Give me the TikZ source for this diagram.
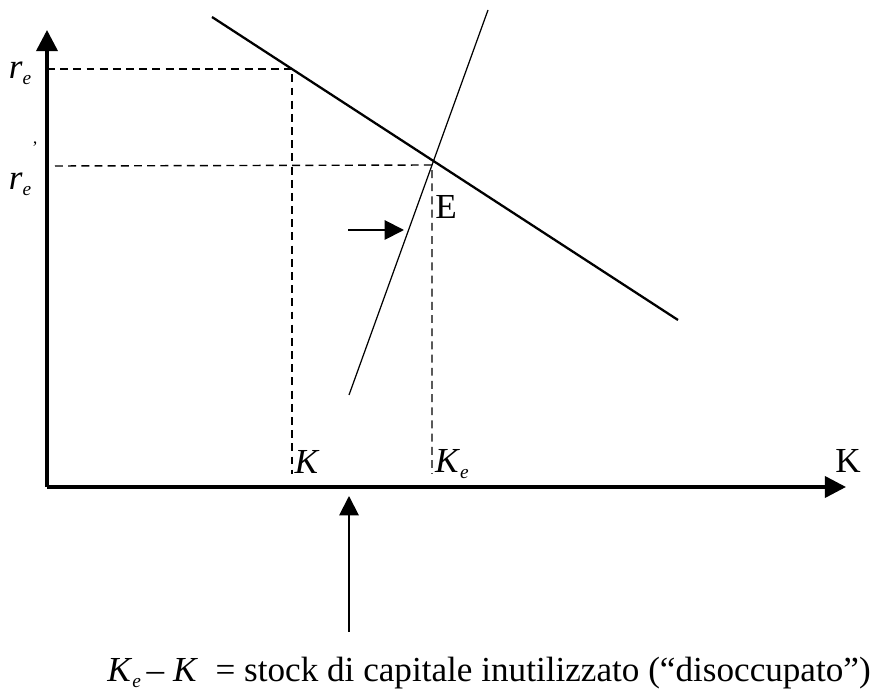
\documentclass[tikz,border=0pt]{standalone}
\usepackage{fontspec}
\setmainfont{Liberation Serif}
\usepackage{tikz}
\usetikzlibrary{positioning, arrows.meta}
\tikzset{
  axis/.style={line width=2pt, -{Triangle[length=12pt,width=12pt]}},
  guide/.style={line width=0.8pt, dash pattern=on 4.5pt off 3pt},
  lbl/.style={inner sep=0pt, font=\fontsize{20}{24}\selectfont}
}
\newcommand{\sub}[1]{\raisebox{-0.35ex}{\fontsize{11}{12}\selectfont\textit{#1}}}
\begin{document}
\begin{tikzpicture}[x=0.02cm, y=-0.02cm]
\useasboundingbox (0,0) rectangle (886,695);
% points of the diagram
\coordinate (O) at (47,487);
\coordinate (ytop) at (47,30);
\coordinate (xend) at (846,487);
\coordinate (A) at (292,69);
\coordinate (E) at (432,165);
\coordinate (Ab) at (292,474);
\coordinate (Eb) at (432,474);
\coordinate (ra) at (47,69);
\coordinate (rb) at (55,166);
\coordinate (d1) at (212,17);
\coordinate (d2) at (678,320);
\coordinate (s1) at (349,395);
\coordinate (s2) at (488,10);
\coordinate (p1) at (348,230);
\coordinate (p2) at (404,230);
\coordinate (q1) at (349,632);
\coordinate (q2) at (349,496);
% axes
\draw[axis] (O) -- (ytop);
\draw[axis] (O) -- (xend);
% curves
\draw[line width=1.3pt] (d1) -- (d2);
\draw[line width=0.7pt] (s1) -- (s2);
% dashed guides
\draw[guide] (ra) -- (A) -- (Ab);
\draw[guide] (rb) -- (E) -- (Eb);
% arrows
\draw[line width=1.1pt, -{Triangle[length=11pt,width=11pt]}] (p1) -- (p2);
\draw[line width=1.1pt, -{Triangle[length=11pt,width=11pt]}] (q1) -- (q2);
% labels
\node[lbl] (lre) at (20,73) {\textit{r}\sub{e}};
\node[lbl] (lrep) at (20,184) {\textit{r}\sub{e}};
\node[lbl, font=\fontsize{10}{10}\selectfont] (prime) at (35,148) {'};
\node[lbl] (lE) at (446,207) {E};
\node[lbl] (lK) at (307,462) {\textit{K}};
\node[lbl] (lKe) at (452,464) {\textit{K}\sub{e}};
\node[lbl] (lKx) at (848,461) {K};
\node[lbl, anchor=west] (note) at (107,673)
  {\textit{K}\sub{e}\,-- \textit{K}\ \ = stock di capitale inutilizzato (“disoccupato”)};
\end{tikzpicture}
\end{document}
